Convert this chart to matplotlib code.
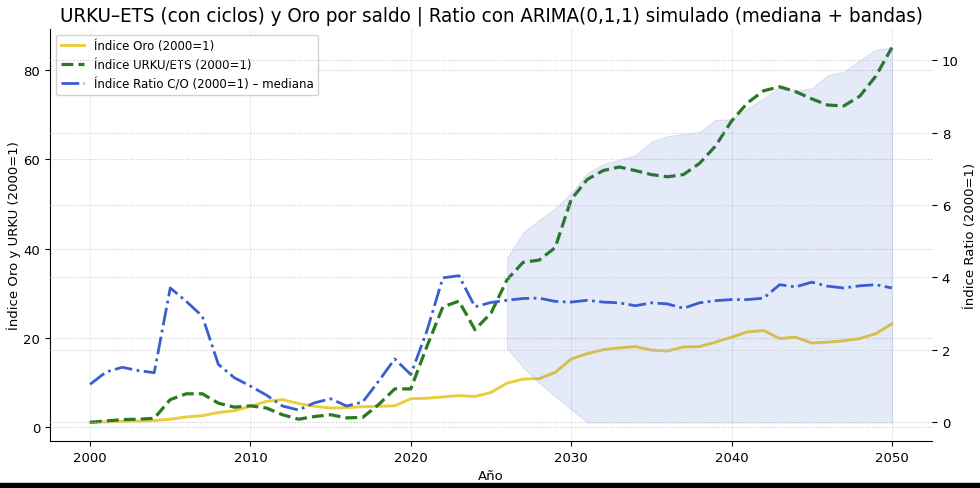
import matplotlib
matplotlib.use("Agg")
import matplotlib.pyplot as plt
from matplotlib.patches import Rectangle
import numpy as np

# Data
years = list(range(2000, 2051))

oro = [1.0, 1.1, 1.2, 1.3, 1.4, 1.7, 2.2, 2.5, 3.2, 3.6,
       4.6, 5.7, 6.1, 5.2, 4.6, 4.2, 4.3, 4.5, 4.6, 4.7,
       6.3, 6.4, 6.7, 7.0, 6.8, 7.7, 9.8, 10.7, 10.8, 12.2,
       15.2, 16.4, 17.3, 17.7, 18.0, 17.2, 17.0, 17.9, 18.0, 19.0,
       20.1, 21.3, 21.6, 19.8, 20.1, 18.8, 19.0, 19.3, 19.8, 20.9,
       23.1]

urku = [1.0, 1.3, 1.6, 1.7, 1.9, 6.1, 7.4, 7.4, 5.3, 4.4,
        4.7, 4.2, 2.7, 1.7, 2.3, 2.7, 2.0, 2.1, 5.0, 8.5,
        8.5, 18.0, 26.9, 28.2, 21.8, 25.5, 33.0, 36.9, 37.4, 40.2,
        51.0, 55.5, 57.5, 58.3, 57.5, 56.6, 56.1, 56.6, 59.1, 63.0,
        68.6, 72.7, 75.4, 76.3, 75.2, 73.6, 72.2, 72.0, 74.2, 78.7,
        85.1]

ratio_med = [1.05, 1.39, 1.52, 1.43, 1.37, 3.71, 3.34, 2.93, 1.60, 1.23,
             1.00, 0.75, 0.45, 0.34, 0.54, 0.65, 0.45, 0.56, 1.14, 1.75,
             1.32, 2.52, 3.99, 4.05, 3.19, 3.31, 3.37, 3.42, 3.43, 3.34,
             3.32, 3.37, 3.32, 3.30, 3.22, 3.30, 3.27, 3.15, 3.30, 3.36,
             3.39, 3.39, 3.43, 3.80, 3.74, 3.87, 3.76, 3.71, 3.77, 3.80,
             3.71]

# simulated bands (forecast years only)
band_years = list(range(2026, 2051))
band_low = [2.06, 1.51, 1.09, 0.72, 0.36, 0.0, 0.0, 0.0, 0.0, 0.0,
            0.0, 0.0, 0.0, 0.0, 0.0, 0.0, 0.0, 0.0, 0.0, 0.0,
            0.0, 0.0, 0.0, 0.0, 0.0]
band_high = [4.54, 5.24, 5.59, 5.91, 6.33, 6.88, 7.13, 7.25, 7.38, 7.75,
             7.91, 7.96, 8.02, 8.35, 8.37, 8.67, 8.94, 9.26, 9.17, 9.22,
             9.59, 9.68, 10.00, 10.29, 10.35]

title = "URKU–ETS (con ciclos) y Oro por saldo | Ratio con ARIMA(0,1,1) simulado (mediana + bandas)"

fig = plt.figure(figsize=(9.8, 4.89), dpi=100)
ax = fig.add_axes([0.051, 0.096, 0.900, 0.843])
ax2 = ax.twinx()

l1, = ax.plot(years, oro, color="#ecce3c", lw=2.1, label="Índice Oro (2000=1)")
l2, = ax.plot(years, urku, color="#2a7a1f", lw=2.3, ls="--", label="Índice URKU/ETS (2000=1)")
ax2.fill_between(band_years, band_low, band_high, color="#3a5fcd", alpha=0.13, lw=0.8)
l3, = ax2.plot(years, ratio_med, color="#3a5fcd", lw=2.0, ls="-.",
               label="Índice Ratio C/O (2000=1) – mediana")

ax.set_xlabel("Año", fontsize=9.5)
ax.set_ylabel("Índice Oro y URKU (2000=1)", fontsize=9.5, labelpad=2)
ax2.set_ylabel("Índice Ratio (2000=1)", fontsize=9.5)
ax.set_title(title, fontsize=14.7, fontstretch="condensed", pad=6)

ax.tick_params(labelsize=9.5)
ax2.tick_params(labelsize=9.5)

# grid, dotted horizontals for both scales
ax.grid(True, axis="x", color="#ececec", lw=0.7)
ax.grid(True, axis="y", color="#c8c8c8", lw=0.8, ls=":")
ax2.grid(True, axis="y", color="#c8c8c8", lw=0.8, ls=":")

for a in (ax, ax2):
    a.spines["top"].set_visible(False)
    a.spines["right"].set_visible(False)
ax2.spines["left"].set_visible(False)
ax2.spines["bottom"].set_visible(False)

ax.legend(handles=[l1, l2, l3], loc="upper left", fontsize=8.5, framealpha=0.9)

# dark strip at the bottom of the picture
fig.add_artist(Rectangle((0, 0), 1, 5.5 / 489, transform=fig.transFigure,
                         color="black", zorder=10))

fig.savefig("out.png", dpi=100)
